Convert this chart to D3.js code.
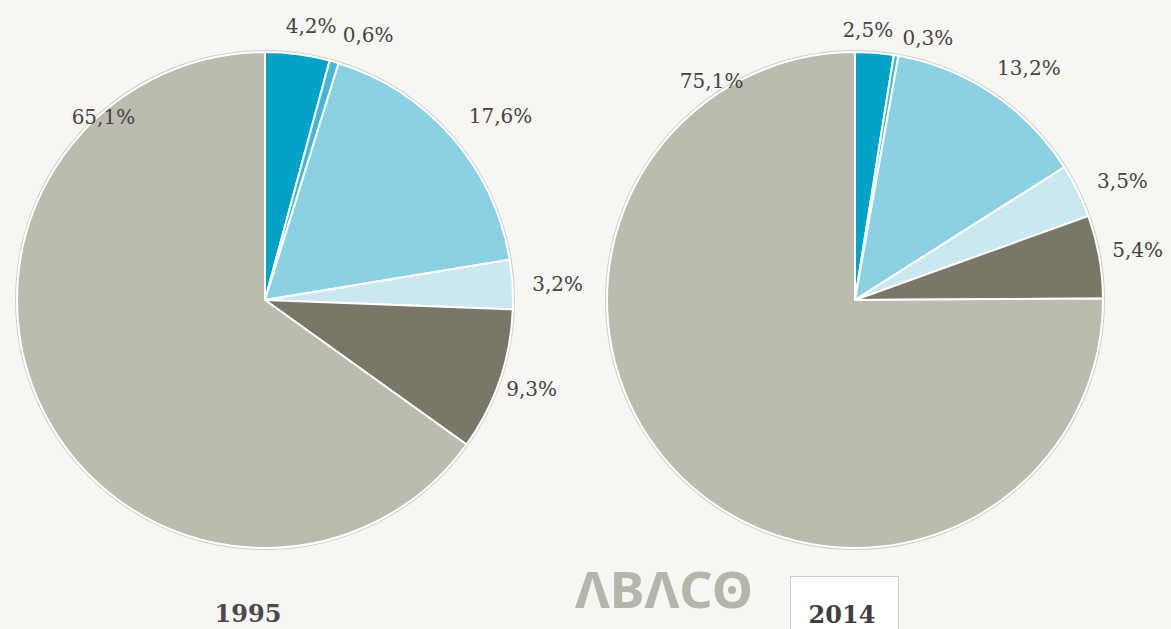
<!DOCTYPE html>
<html>
<head>
<meta charset="utf-8">
<script src="https://cdn.jsdelivr.net/npm/d3@7/dist/d3.min.js"></script>
<style>
  html, body { margin: 0; padding: 0; background: #f7f6f2; }
  svg { display: block; }
</style>
</head>
<body>
<svg id="chart" width="1171" height="629"></svg>
<script>
// ---- data ----
const categories = ["Cat A", "Cat B", "Cat C", "Cat D", "Cat E", "Cat F"];
const values1995 = [4.2, 0.6, 17.6, 3.2, 9.3, 65.1];
const values2014 = [2.5, 0.3, 13.2, 3.5, 5.4, 75.1];
const years = ["1995", "2014"];
const logoText = "ΛBΛCO";

// ---- styling / layout (kept separate from data) ----
const colors = ["#00a2c7", "#45b7d6", "#8bd0e3", "#c9e8f0", "#7a7769", "#bcbbaf"];
const W = 1171, H = 629;
const radius = 248;
const centers = [{x: 265, y: 300}, {x: 855, y: 300}];
// label placement: angular nudge (degrees) from slice mid-angle and distance from centre
const labelLayout = [
  [{da: 2, r: 278}, {da: 5, r: 285}, {da: 3, r: 299}, {da: 0.5, r: 293}, {da: -0.5, r: 281}, {da: 75.7, r: 244}],
  [{da: -1.8, r: 271}, {da: 6, r: 272}, {da: 3, r: 290}, {da: 2, r: 293}, {da: 0, r: 287}, {da: 102, r: 262}]
];

const svg = d3.select("#chart");
svg.append("rect").attr("width", W).attr("height", H).attr("fill", "#f7f6f2");

const pie = d3.pie().sort(null).value(d => d);
const arc = d3.arc().innerRadius(0).outerRadius(radius);
const fmt = v => d3.format(".1f")(v).replace(".", ",") + "%";

[values1995, values2014].forEach((vals, pi) => {
  const c = centers[pi];
  const g = svg.append("g").attr("transform", `translate(${c.x},${c.y})`);
  // faint outer halo
  g.append("circle").attr("r", radius + 1.2)
    .attr("fill", "none").attr("stroke", "#cfcdc6").attr("stroke-width", 1.5);
  const arcs = pie(vals);
  g.selectAll("path.slice").data(arcs).join("path")
    .attr("class", "slice")
    .attr("d", arc)
    .attr("fill", (d, i) => colors[i])
    .attr("stroke", "#ffffff")
    .attr("stroke-width", 2)
    .attr("stroke-linejoin", "round");

  g.selectAll("text.lbl").data(arcs).join("text")
    .attr("class", "lbl")
    .attr("x", (d, i) => {
      const L = labelLayout[pi][i];
      const a = (d.startAngle + d.endAngle) / 2 + L.da * Math.PI / 180;
      return Math.sin(a) * L.r;
    })
    .attr("y", (d, i) => {
      const L = labelLayout[pi][i];
      const a = (d.startAngle + d.endAngle) / 2 + L.da * Math.PI / 180;
      return -Math.cos(a) * L.r;
    })
    .attr("dy", "0.36em")
    .attr("text-anchor", "middle")
    .attr("font-family", "'DejaVu Serif', serif")
    .attr("font-size", 20)
    .attr("fill", "#444444")
    .text(d => fmt(d.data));
});

// year label 1995
svg.append("text")
  .attr("x", 248).attr("y", 622)
  .attr("text-anchor", "middle")
  .attr("font-family", "'DejaVu Serif', serif")
  .attr("font-weight", "bold")
  .attr("font-size", 24)
  .attr("fill", "#4a4a4a")
  .text(years[0]);

// year box 2014
svg.append("rect")
  .attr("x", 790.5).attr("y", 576.5).attr("width", 108).attr("height", 60)
  .attr("fill", "#ffffff").attr("stroke", "#cfcdc8").attr("stroke-width", 1);
svg.append("text")
  .attr("x", 842).attr("y", 623)
  .attr("text-anchor", "middle")
  .attr("font-family", "'DejaVu Serif', serif")
  .attr("font-weight", "bold")
  .attr("font-size", 24)
  .attr("fill", "#3f3f3f")
  .text(years[1]);

// logo
svg.append("text")
  .attr("x", 575).attr("y", 608)
  .attr("font-family", "'Noto Sans', sans-serif")
  .attr("font-weight", "bold")
  .attr("font-size", 50)
  .attr("textLength", 178)
  .attr("lengthAdjust", "spacingAndGlyphs")
  .attr("fill", "#b6b5aa")
  .text(logoText);
svg.append("circle").attr("cx", 732).attr("cy", 590).attr("r", 4).attr("fill", "#b6b5aa");
</script>
</body>
</html>
